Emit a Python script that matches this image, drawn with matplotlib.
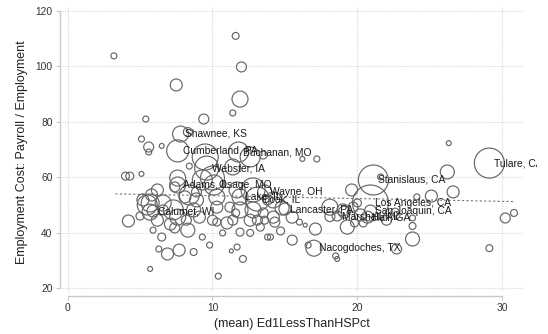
import matplotlib
matplotlib.use("Agg")
import matplotlib.pyplot as plt
from matplotlib.transforms import Bbox, TransformedBbox
import numpy as np

plt.rcParams['font.family'] = ['Liberation Sans', 'DejaVu Sans']

# county averages: share with less than HS (pct), payroll per employee, employment weight
ed_pct = [3.2, 11.6, 12.0, 7.5, 11.9, 5.4, 9.4, 11.4, 7.8, 8.3,
          5.1, 5.6, 5.6, 6.5, 7.6, 9.5, 11.8, 13.5, 8.4, 26.3,
          29.1, 16.2, 17.2, 26.2, 21.1, 20.9, 20.9, 20.7, 18.6, 17.0,
          9.6, 7.6, 10.1, 5.9, 13.6, 11.9, 13.1, 15.0, 4.0, 4.3,
          5.1, 5.7, 10.4, 6.3, 6.9, 7.7, 8.7, 9.8, 9.3, 6.5,
          4.2, 5.0, 5.9, 8.3, 7.1, 10.7, 5.7, 5.7, 7.6, 9.1,
          10.0, 11.0, 11.2, 11.7, 11.6, 5.2, 10.3, 8.4, 7.4, 6.2,
          8.9, 5.8, 5.5, 6.6, 7.3, 7.4, 12.1, 11.3, 12.6, 11.9,
          13.8, 19.6, 15.5, 16.0, 17.1, 15.5, 16.6, 14.0, 19.1, 19.3,
          18.1, 14.8, 14.2, 13.5, 13.3, 12.8, 11.9, 12.8, 14.2, 12.6,
          11.4, 14.7, 16.4, 19.8, 18.5, 18.6, 23.8, 23.8, 23.8, 24.1,
          25.1, 26.6, 22.7, 20.4, 22.7, 30.2, 30.8, 29.1, 21.6, 22.0,
          19.0, 19.7, 20.2, 22.6, 20.0, 14.3, 13.6, 13.8, 11.4, 12.6,
          7.6, 9.3, 11.7, 8.1, 8.9, 8.2, 8.7, 10.3, 13.1, 10.3,
          6.2, 6.6, 10.0, 18.1]
pay_emp = [103.8, 111.0, 99.8, 93.3, 88.2, 81.0, 81.0, 83.2, 75.6, 76.3,
           73.8, 70.9, 69.1, 71.3, 69.5, 67.3, 69.1, 68.0, 64.0, 72.3,
           65.1, 66.6, 66.6, 61.9, 59.0, 50.7, 47.8, 45.6, 46.0, 34.4,
           63.3, 57.2, 57.2, 47.8, 54.7, 52.9, 52.1, 48.5, 60.4, 60.4,
           61.2, 26.9, 24.3, 34.1, 32.3, 33.7, 33.0, 35.5, 38.4, 38.4,
           44.2, 46.0, 40.9, 40.9, 43.1, 39.9, 47.4, 50.7, 45.6, 45.6,
           44.5, 43.5, 49.2, 34.8, 47.1, 51.8, 52.9, 53.6, 56.5, 55.4,
           54.7, 53.6, 50.0, 50.7, 48.2, 41.7, 30.5, 33.4, 39.9, 40.2,
           38.4, 55.4, 45.6, 43.8, 41.3, 37.3, 35.5, 38.4, 47.4, 42.0,
           49.2, 48.9, 45.6, 47.1, 42.0, 55.4, 48.2, 48.2, 51.8, 44.5,
           44.5, 40.6, 42.7, 43.5, 31.6, 30.5, 37.7, 42.4, 45.3, 52.9,
           53.2, 54.7, 34.1, 43.5, 46.4, 45.3, 47.1, 34.4, 60.1, 44.5,
           48.2, 49.2, 46.4, 47.4, 50.7, 43.8, 44.5, 51.8, 63.7, 67.3,
           59.7, 59.0, 55.4, 52.9, 51.8, 44.5, 48.2, 49.2, 44.5, 43.8,
           44.5, 48.2, 59.7, 45.8]
emp = [9, 12, 25, 36, 64, 9, 25, 9, 64, 20,
       9, 25, 9, 6, 121, 169, 100, 16, 9, 6,
       225, 6, 9, 49, 225, 324, 36, 36, 25, 64,
       144, 64, 100, 36, 49, 64, 144, 36, 16, 16,
       6, 6, 9, 9, 36, 36, 12, 9, 9, 16,
       36, 16, 9, 49, 36, 9, 64, 81, 64, 36,
       25, 36, 25, 9, 16, 36, 64, 100, 25, 36,
       25, 36, 100, 64, 100, 25, 12, 4, 12, 16,
       9, 36, 36, 9, 36, 25, 9, 9, 36, 49,
       64, 49, 36, 25, 16, 144, 64, 64, 64, 36,
       25, 16, 4, 16, 9, 6, 49, 12, 9, 9,
       36, 36, 25, 16, 12, 25, 12, 12, 9, 25,
       36, 25, 36, 16, 16, 25, 16, 25, 64, 100,
       64, 100, 64, 36, 49, 25, 49, 36, 25, 16,
       36, 25, 144, 25]

# labelled counties
lab_names = ["Shawnee, KS", "Cumberland, PA", "Buchanan, MO", "Webster, IA",
             "Adams, IL", "Osage, MO", "Calumet, WI", "Wayne, OH", "Lake, IL",
             "Cook, IL", "Lancaster, PA", "Marshall, AL", "Hall, GA",
             "San Joaquin, CA", "Los Angeles, CA", "Stanislaus, CA",
             "Nacogdoches, TX", "Tulare, CA"]
lab_x = [7.8, 7.6, 11.8, 9.6, 7.6, 10.1, 5.9, 13.6, 11.9, 13.1, 15.0, 18.6,
         20.7, 20.9, 20.9, 21.1, 17.0, 29.1]
lab_y = [75.6, 69.5, 69.1, 63.3, 57.2, 57.2, 47.8, 54.7, 52.9, 52.1, 48.5,
         46.0, 45.6, 47.8, 50.7, 59.0, 34.4, 65.1]

# linear fit endpoints
fit_x = [3.3, 30.9]
fit_y = [54.0, 51.2]

fig = plt.figure(figsize=(5.48, 3.34), dpi=100)
ax = fig.add_axes([0.1126, 0.1251, 0.8412, 0.8545])

ax.set_xlim(-0.4, 31.4)
ax.set_ylim(18.5, 121.5)

ax.set_xticks([0, 10, 20, 30])
ax.set_yticks([20, 40, 60, 80, 100, 120])
ax.grid(True, color="#d6d6d6", linestyle=(0, (1, 1.2)), linewidth=0.8)
ax.set_axisbelow(True)

ax.plot(fit_x, fit_y, color="#777777", linestyle=(0, (2, 2)), linewidth=0.8, zorder=2)

ax.scatter(ed_pct, pay_emp, s=np.array(emp) * 2.07, facecolors="none",
           edgecolors="#666666", linewidths=0.85, zorder=3)

# marker labels get cut at the right edge of the graph region
graph_box = TransformedBbox(Bbox([[0, 0], [537 / 548, 1]]), fig.transFigure)
for name, x, y in zip(lab_names, lab_x, lab_y):
    t = ax.annotate(name, (x, y), xytext=(3.5, 0), textcoords="offset points",
                    ha="left", va="center", fontsize=7.4, color="#1a1a1a",
                    annotation_clip=False, zorder=4)
    t.set_clip_on(True)
    t.set_clip_box(graph_box)

for side in ["top", "right"]:
    ax.spines[side].set_visible(False)
ax.spines["left"].set_position(("outward", 1.5))
ax.spines["left"].set_bounds(20, 120)
ax.spines["bottom"].set_position(("outward", 3))
ax.spines["bottom"].set_bounds(0, 30)
for side in ["left", "bottom"]:
    ax.spines[side].set_color("#c8c8c8")
    ax.spines[side].set_linewidth(1.0)

ax.tick_params(axis="both", colors="#c8c8c8", labelcolor="#333333",
               labelsize=7.4, length=3, width=0.8, pad=2)

ax.set_xlabel("(mean) Ed1LessThanHSPct", fontsize=9, color="#222222")
ax.set_ylabel("Employment Cost: Payroll / Employment", fontsize=9, color="#222222")
ax.xaxis.set_label_coords(0.5, -0.092)
ax.yaxis.set_label_coords(-0.074, 0.49)

fig.savefig("out.png", dpi=100)
